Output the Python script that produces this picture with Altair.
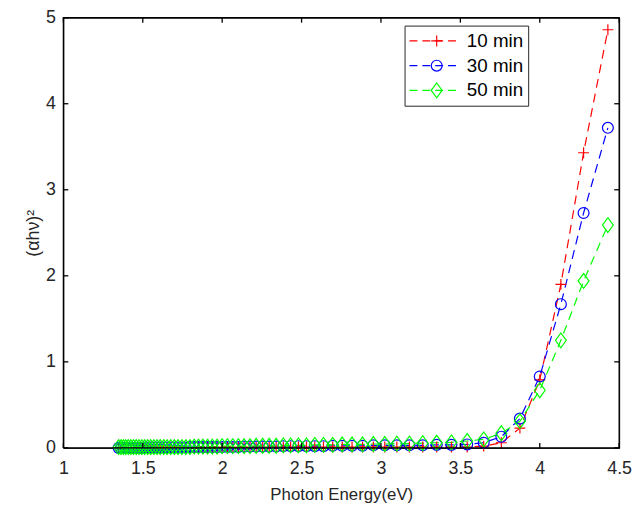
import altair as alt
import pandas as pd

# Photon energy (eV) of each sample point
energy = [
    4.429, 4.276, 4.133, 4.000, 3.875, 3.758, 3.647, 3.543, 3.444, 3.351,
    3.263, 3.179, 3.100, 3.024, 2.952, 2.884, 2.818, 2.756, 2.696, 2.638,
    2.583, 2.531, 2.480, 2.431, 2.385, 2.340, 2.296, 2.255, 2.214, 2.175,
    2.138, 2.102, 2.067, 2.033, 2.000, 1.968, 1.938, 1.908, 1.879, 1.851,
    1.824, 1.797, 1.771, 1.746, 1.722, 1.699, 1.676, 1.653, 1.632, 1.610,
    1.590, 1.570, 1.550, 1.531, 1.512, 1.494, 1.476, 1.459, 1.442, 1.425,
    1.409, 1.393, 1.378, 1.363, 1.348,
]

y10 = [
    4.86, 3.43, 1.90, 0.79, 0.23, 0.06, 0.02, 0.01, 0.01, 0.01,
    0.01, 0.01, 0.01, 0.01, 0.01, 0.01, 0.01, 0.01, 0.01, 0.01,
    0.01, 0.01, 0.01, 0.01, 0.01, 0.01, 0.005, 0.005, 0.005, 0.005,
    0.005, 0.005, 0.005, 0.005, 0.005, 0.005, 0.005, 0.005, 0.005, 0.005,
    0.0, 0.0, 0.0, 0.0, 0.0, 0.0, 0.0, 0.0, 0.0, 0.0,
    0.0, 0.0, 0.0, 0.0, 0.0, 0.0, 0.0, 0.0, 0.0, 0.0,
    0.0, 0.0, 0.0, 0.0, 0.0,
]

y30 = [
    3.72, 2.73, 1.67, 0.83, 0.34, 0.13, 0.06, 0.04, 0.035, 0.035,
    0.03, 0.03, 0.03, 0.03, 0.03, 0.025, 0.025, 0.025, 0.025, 0.02,
    0.02, 0.02, 0.02, 0.02, 0.02, 0.015, 0.015, 0.015, 0.015, 0.015,
    0.015, 0.01, 0.01, 0.01, 0.01, 0.01, 0.01, 0.01, 0.01, 0.01,
    0.01, 0.01, 0.005, 0.005, 0.005, 0.005, 0.005, 0.005, 0.005, 0.005,
    0.005, 0.005, 0.005, 0.005, 0.005, 0.0, 0.0, 0.0, 0.0, 0.0,
    0.0, 0.0, 0.0, 0.0, 0.0,
]

y50 = [
    2.59, 1.94, 1.25, 0.67, 0.31, 0.17, 0.10, 0.08, 0.065, 0.06,
    0.055, 0.05, 0.05, 0.045, 0.045, 0.04, 0.04, 0.04, 0.035, 0.035,
    0.035, 0.03, 0.03, 0.03, 0.03, 0.025, 0.025, 0.025, 0.025, 0.02,
    0.02, 0.02, 0.02, 0.02, 0.02, 0.015, 0.015, 0.015, 0.015, 0.015,
    0.015, 0.01, 0.01, 0.01, 0.01, 0.01, 0.01, 0.01, 0.01, 0.01,
    0.01, 0.01, 0.01, 0.01, 0.01, 0.01, 0.01, 0.01, 0.01, 0.01,
    0.01, 0.01, 0.01, 0.01, 0.01,
]

series_names = ["10 min", "30 min", "50 min"]
series_keys = ["k10", "k30", "k50"]          # keys for the marker legend
series_colors = ["#ff0000", "#0000ff", "#00ff00"]
x_ticks = [1, 1.5, 2, 2.5, 3, 3.5, 4, 4.5]
y_ticks = [0, 1, 2, 3, 4, 5]
x_lim = [1, 4.5]
y_lim = [0, 5]
x_title = "Photon Energy(eV)"
y_title = "(αhν)²"

rows = []
for name, key, vals in zip(series_names, series_keys, [y10, y30, y50]):
    for e, v in zip(energy, vals):
        rows.append({"series": name, "key": key, "energy": e, "value": v})
df = pd.DataFrame(rows)

FONT = "Liberation Sans"
INK = "#262626"
W, H = 562, 435
TK = 5  # inward tick length in pixels

# axes box and inward ticks, expressed in data units of the axis limits
tx = TK * (x_lim[1] - x_lim[0]) / W
ty = TK * (y_lim[1] - y_lim[0]) / H
box_rows = []
corners = [(x_lim[0], y_lim[0]), (x_lim[1], y_lim[0]), (x_lim[1], y_lim[1]),
           (x_lim[0], y_lim[1]), (x_lim[0], y_lim[0])]
for i, (bx, by) in enumerate(corners):
    box_rows.append({"seg": "box", "i": i, "bx": bx, "by": by})
for t in x_ticks:
    box_rows += [{"seg": f"b{t}", "i": 0, "bx": t, "by": y_lim[0]},
                 {"seg": f"b{t}", "i": 1, "bx": t, "by": y_lim[0] + ty},
                 {"seg": f"t{t}", "i": 0, "bx": t, "by": y_lim[1]},
                 {"seg": f"t{t}", "i": 1, "bx": t, "by": y_lim[1] - ty}]
for t in y_ticks:
    box_rows += [{"seg": f"l{t}", "i": 0, "bx": x_lim[0], "by": t},
                 {"seg": f"l{t}", "i": 1, "bx": x_lim[0] + tx, "by": t},
                 {"seg": f"r{t}", "i": 0, "bx": x_lim[1], "by": t},
                 {"seg": f"r{t}", "i": 1, "bx": x_lim[1] - tx, "by": t}]
box_df = pd.DataFrame(box_rows)

xscale = alt.Scale(domain=x_lim, nice=False, zero=False)
yscale = alt.Scale(domain=y_lim, nice=False)
cscale = alt.Scale(domain=series_names, range=series_colors)
sscale = alt.Scale(domain=series_keys, range=series_colors)

# marker outlines: thin plus, circle, tall diamond
marker_paths = [
    "M-1,0H1M0,-1V1",
    "circle",
    "M-1,0L0,-1.36L1,0L0,1.36Z",
]
shape_scale = alt.Scale(domain=series_keys, range=marker_paths)

bottom_axis = alt.Axis(
    orient="bottom", values=x_ticks, format="~g", ticks=False,
    domain=False, grid=False, labelFlush=False, labelPadding=12,
    labelFont=FONT, labelFontSize=18, labelColor=INK,
    title=x_title, titleFont=FONT, titleFontSize=17, titleFontWeight="normal",
    titleColor=INK, titlePadding=9,
)
left_axis = alt.Axis(
    orient="left", values=y_ticks, format="~g", ticks=False,
    domain=False, grid=False, labelFlush=False, labelPadding=8,
    labelFont=FONT, labelFontSize=18, labelColor=INK,
    title=y_title, titleFont=FONT, titleFontSize=18, titleFontWeight="normal",
    titleColor=INK, titlePadding=3,
)

LEG_X, LEG_Y = 345, 8

# legend A: dashed coloured lines + labels, boxed
legend_lines = alt.Legend(
    orient="none", legendX=LEG_X, legendY=LEG_Y, title=None,
    symbolType="stroke", symbolDash=[8, 5], symbolSize=2500,
    symbolStrokeWidth=1.2, clipHeight=23, rowPadding=2, padding=4,
    labelOffset=7, strokeColor=INK, fillColor="white",
    labelFont=FONT, labelFontSize=19, labelColor="#000000", labelLimit=200,
    zindex=0,
)
# legend B: the markers only, laid over the middle of the dashed lines
legend_marks = alt.Legend(
    orient="none", legendX=LEG_X + 19, legendY=LEG_Y, title=None,
    symbolSize=121, symbolStrokeWidth=1.2, clipHeight=23, rowPadding=2,
    padding=4, labelExpr="''", labelFontSize=19,
    zindex=1,
)

base = alt.Chart(df)

lines = base.mark_line(strokeDash=[9, 6], strokeWidth=1.2).encode(
    x=alt.X("energy:Q", scale=xscale, axis=bottom_axis),
    y=alt.Y("value:Q", scale=yscale, axis=left_axis),
    color=alt.Color("series:N", scale=cscale, legend=legend_lines),
)

points = base.mark_point(filled=False, strokeWidth=1.2, opacity=1, size=121).encode(
    x=alt.X("energy:Q", scale=xscale),
    y=alt.Y("value:Q", scale=yscale),
    stroke=alt.Stroke("key:N", scale=sscale, legend=legend_marks),
    shape=alt.Shape("key:N", scale=shape_scale, legend=legend_marks),
    order=alt.Order("key:N"),
)

box = alt.Chart(box_df).mark_line(
    color="#000000", stroke="#000000", strokeWidth=1.3, opacity=1
).encode(
    x=alt.X("bx:Q", scale=xscale),
    y=alt.Y("by:Q", scale=yscale),
    detail="seg:N",
    order=alt.Order("i:Q"),
)

chart = alt.layer(lines, points, box).properties(
    width=W, height=H,
    autosize=alt.AutoSizeParams(type="none"),
    padding={"left": 56, "top": 7, "right": 14, "bottom": 60},
).configure_view(
    stroke="#000000", strokeWidth=1
)

chart.save("out.html", embed_options={"renderer": "svg", "actions": False})
